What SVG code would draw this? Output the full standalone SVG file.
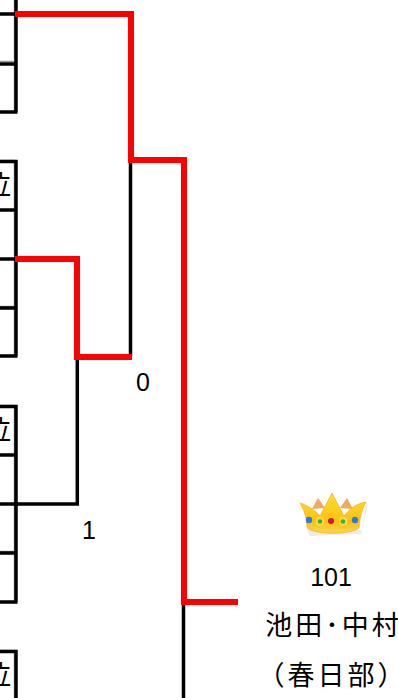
<svg xmlns="http://www.w3.org/2000/svg" width="398" height="698" viewBox="0 0 398 698">
<style>
.k{fill:none;stroke:#000;stroke-width:3.500}
.g{fill:none;stroke:#9a9a9a;stroke-width:1.500}
.r{fill:none;stroke:#f00;stroke-width:6}
.t{font-family:"Liberation Sans","Noto Sans CJK JP",sans-serif;font-size:25px;fill:#000;text-anchor:middle}
.j{font-family:"Noto Sans CJK JP",sans-serif;font-size:27px;fill:#000;text-anchor:middle}
.w{letter-spacing:3px}
</style>
<defs>
<linearGradient id="gold" x1="0" y1="0" x2="0" y2="1"><stop offset="0" stop-color="#ffe030"/><stop offset=".7" stop-color="#fbc010"/><stop offset="1" stop-color="#f6d850"/></linearGradient>
</defs>
<rect width="398" height="698" fill="#fff"/>
<g id="cells">
<path class="g" d="M14.500 0V60M0 61.500H15M14.500 64V112M0 160.500H15M14.500 162V208M14.500 212V256M14.500 260V306M0 306.500H15M14.500 310V354M0 405.500H15M14.500 407V453M14.500 457V502M14.500 506V551M0 551.500H15M14.500 555V600M0 650.500H15M14.500 652V698"/>
</g>
<g id="connectors">
<path class="k" d="M16 0V112M0 14H16M0 64H16M0 112H17.500"/>
<path class="k" d="M0 161.500H16V356M0 210H16M0 259H16M0 308H16M0 356H17.500"/>
<path class="k" d="M0 406.500H16V602M0 455H16M0 553H16M0 602H17.500M0 504H77.300V357"/>
<path class="k" d="M0 651.500H16V698"/>
<path class="k" d="M130.500 160V356M183.500 602V698"/>
<path class="r" d="M15 14H131V160H184V602H238"/>
<path class="r" d="M15 259H77V357H132"/>
</g>
<g id="stubs">
<text class="j" x="-2.500" y="195">位</text>
<text class="j" x="-2.500" y="440">位</text>
<text class="j" x="-2.500" y="685">位</text>
</g>
<g id="score-top"><text class="t" x="143" y="391">0</text></g>
<g id="score-semi"><text class="t" x="89" y="539">1</text></g>
<g id="crown">
<path d="M307 530L362 530L366 504L368 505L361 534L310 536Z" fill="#000" opacity=".08"/>
<path d="M312 509L318 498L325 508ZM340 508L347 498L353 509Z" fill="#eeaa60"/>
<path d="M300 503C307 505 315 510 320 516L332 493L344 516C348 510 357 503 366 502C362 510 360 516 359 528C350 535 315 535 307 528C307 518 304 510 300 503Z" fill="url(#gold)" stroke="#eea80e" stroke-width=".6"/>
<g fill="#ffdb40"><circle cx="320" cy="521" r="4.500"/><circle cx="343" cy="521" r="4.500"/></g>
<circle cx="309" cy="520" r="3.200" fill="#2f78e0"/>
<circle cx="320" cy="521.500" r="2.300" fill="#35b050"/>
<circle cx="331" cy="521" r="3" fill="#d8143c"/>
<circle cx="343" cy="521.500" r="2.300" fill="#35b050"/>
<circle cx="355" cy="520" r="3.200" fill="#2f78e0"/>
</g>
<g id="winner">
<text class="t" x="331" y="586">101</text>
<text class="j w" x="333.500" y="635">池田･中村</text>
<text class="j w" x="332.500" y="685">（春日部）</text>
</g>
</svg>
